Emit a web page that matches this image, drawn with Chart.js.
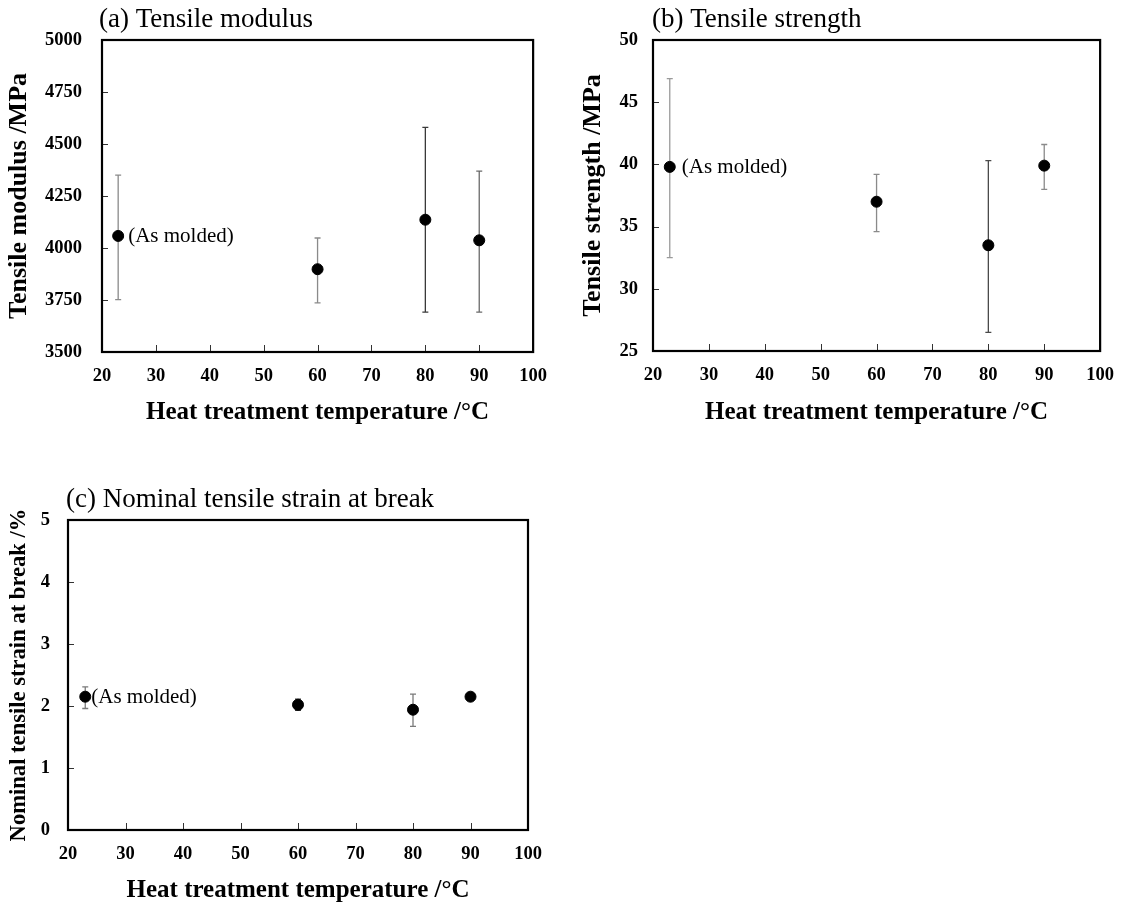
<!DOCTYPE html>
<html><head><meta charset="utf-8">
<script src="https://cdn.jsdelivr.net/npm/chart.js@4/dist/chart.umd.min.js"></script>
<style>
html,body{margin:0;padding:0;background:#fff;width:1127px;height:909px;overflow:hidden}
canvas{position:absolute}
</style></head><body>
<canvas id="ca" style="left:0px;top:0px"></canvas>
<canvas id="cb" style="left:560px;top:0px"></canvas>
<canvas id="cc" style="left:0px;top:460px"></canvas>
<script>
// ---- data ----
const temps = [23, 60, 80, 90];
const xTicks = [20, 30, 40, 50, 60, 70, 80, 90, 100];

const modulus = [4058, 3898, 4136, 4037];
const modulusHigh = [4350, 4048, 4580, 4370];
const modulusLow = [3752, 3736, 3692, 3692];
const yTicksA = [3500, 3750, 4000, 4250, 4500, 4750, 5000];

const strength = [39.8, 37.0, 33.5, 39.9];
const strengthHigh = [46.9, 39.2, 40.3, 41.6];
const strengthLow = [32.5, 34.6, 26.5, 38.0];
const yTicksB = [25, 30, 35, 40, 45, 50];

const strain = [2.15, 2.02, 1.94, 2.15];
const strainHigh = [2.31, 2.11, 2.19, 2.17];
const strainLow = [1.96, 1.93, 1.67, 2.13];
const yTicksC = [0, 1, 2, 3, 4, 5];

const panelTitles = ['(a) Tensile modulus', '(b) Tensile strength', '(c) Nominal tensile strain at break'];
const xTitle = 'Heat treatment temperature /°C';
const yTitles = ['Tensile modulus /MPa', 'Tensile strength /MPa', 'Nominal tensile strain at break /%'];
const annotText = '(As molded)';

const SERIF = '"Liberation Serif", "Times New Roman", serif';

const panelPlugin = {
  id: 'panel',
  beforeDatasetsDraw(chart, args, o) {
    const {ctx} = chart; const xs = chart.scales.x, ys = chart.scales.y;
    ctx.save();
    o.high.forEach((h, i) => {
      const x = xs.getPixelForValue(temps[i]);
      const yh = ys.getPixelForValue(h), yl = ys.getPixelForValue(o.low[i]);
      ctx.strokeStyle = o.errColors[i]; ctx.lineWidth = 1.3;
      ctx.beginPath();
      ctx.moveTo(x, yh); ctx.lineTo(x, yl);
      ctx.moveTo(x - 3, yh); ctx.lineTo(x + 3, yh);
      ctx.moveTo(x - 3, yl); ctx.lineTo(x + 3, yl);
      ctx.stroke();
    });
    ctx.restore();
  },
  afterDraw(chart, args, o) {
    const {ctx, chartArea: a} = chart; const xs = chart.scales.x, ys = chart.scales.y;
    ctx.save();
    // inner tick marks
    ctx.strokeStyle = '#333'; ctx.lineWidth = 1;
    ctx.beginPath();
    ys.ticks.forEach(t => {
      if (t.value === ys.min || t.value === ys.max) return;
      const y = Math.round(ys.getPixelForValue(t.value)) + 0.5;
      ctx.moveTo(a.left, y); ctx.lineTo(a.left + 6, y);
    });
    xs.ticks.forEach(t => {
      if (t.value === xs.min || t.value === xs.max) return;
      const x = Math.round(xs.getPixelForValue(t.value)) + 0.5;
      ctx.moveTo(x, a.bottom); ctx.lineTo(x, a.bottom - 7);
    });
    ctx.stroke();
    // frame
    ctx.strokeStyle = '#000'; ctx.lineWidth = 2.2;
    ctx.strokeRect(a.left, a.top, a.right - a.left, a.bottom - a.top);
    // panel title
    ctx.fillStyle = '#000';
    ctx.font = o.titleFont;
    ctx.textAlign = 'left'; ctx.textBaseline = 'alphabetic';
    ctx.fillText(o.title, o.titleX, o.titleY);
    // annotation
    const ds = chart.data.datasets[0].data[0];
    const px = xs.getPixelForValue(ds.x), py = ys.getPixelForValue(ds.y);
    ctx.font = '21px ' + SERIF;
    ctx.textBaseline = 'middle';
    ctx.fillText(annotText, px + o.annotDx, py + 1);
    ctx.restore();
  }
};

function makeChart(id, w, h, cfg) {
  const cv = document.getElementById(id);
  cv.width = w; cv.height = h; cv.style.width = w + 'px'; cv.style.height = h + 'px';
  return new Chart(cv, {
    type: 'scatter',
    data: { datasets: [{
      data: temps.map((t, i) => ({x: t, y: cfg.values[i]})),
      backgroundColor: '#000', borderColor: '#000', pointRadius: 5.5, pointHoverRadius: 5.5, showLine: false
    }]},
    plugins: [panelPlugin],
    options: {
      responsive: false, animation: false, devicePixelRatio: 1,
      layout: { padding: {top: cfg.padTop, right: cfg.padRight, left: 0, bottom: 0} },
      plugins: {
        legend: {display: false}, tooltip: {enabled: false},
        panel: {
          high: cfg.high, low: cfg.low, errColors: cfg.errColors,
          title: cfg.title, titleX: cfg.titleX, titleY: cfg.titleY, titleFont: '27px ' + SERIF,
          annotDx: cfg.annotDx
        }
      },
      scales: {
        x: {
          type: 'linear', min: 20, max: 100,
          afterBuildTicks: s => { s.ticks = xTicks.map(v => ({value: v})); },
          afterFit: s => { s.height = cfg.xH; },
          grid: {display: false, drawTicks: false}, border: {display: false},
          ticks: {font: {family: SERIF, size: 18.5, weight: 'bold'}, color: '#000', padding: 13,
                  autoSkip: false, maxRotation: 0, callback: v => String(v)},
          title: {display: true, text: xTitle, color: '#000',
                  font: {family: SERIF, size: 25, weight: 'bold'}, padding: {top: 0, bottom: cfg.xTitlePad}}
        },
        y: {
          type: 'linear', min: cfg.yTicks[0], max: cfg.yTicks[cfg.yTicks.length - 1],
          afterBuildTicks: s => { s.ticks = cfg.yTicks.map(v => ({value: v})); },
          afterFit: s => { s.width = cfg.yW; },
          grid: {display: false, drawTicks: false}, border: {display: false},
          ticks: {font: {family: SERIF, size: 18.5, weight: 'bold'}, color: '#000', padding: cfg.yTickPad,
                  callback: v => String(v)},
          title: {display: true, text: cfg.yTitle, color: '#000',
                  font: {family: SERIF, size: cfg.yTitleSize, weight: 'bold'}, padding: {top: cfg.yTitlePad, bottom: 0}}
        }
      }
    }
  });
}

makeChart('ca', 560, 440, {
  values: modulus, high: modulusHigh, low: modulusLow, yTicks: yTicksA,
  errColors: ['#8a8a8a', '#8a8a8a', '#3a3a3a', '#6a6a6a'],
  title: panelTitles[0], titleX: 99, titleY: 27, annotDx: 10,
  padTop: 40, padRight: 26, xH: 88, yW: 102, yTickPad: 20, xTitlePad: 12,
  yTitle: yTitles[0], yTitleSize: 26, yTitlePad: 4
});
makeChart('cb', 567, 440, {
  values: strength, high: strengthHigh, low: strengthLow, yTicks: yTicksB,
  errColors: ['#9a9a9a', '#8a8a8a', '#4a4a4a', '#8a8a8a'],
  title: panelTitles[1], titleX: 92, titleY: 27, annotDx: 12,
  padTop: 40, padRight: 24, xH: 89, yW: 93, yTickPad: 15, xTitlePad: 12,
  yTitle: yTitles[1], yTitleSize: 26, yTitlePad: 18
});
makeChart('cc', 560, 449, {
  values: strain, high: strainHigh, low: strainLow, yTicks: yTicksC,
  errColors: ['#7a7a7a', '#3a3a3a', '#7a7a7a', '#7a7a7a'],
  title: panelTitles[2], titleX: 66, titleY: 47, annotDx: 6,
  padTop: 60, padRight: 32, xH: 79, yW: 68, yTickPad: 18, xTitlePad: 3,
  yTitle: yTitles[2], yTitleSize: 22.6, yTitlePad: 6
});
</script>
</body></html>
